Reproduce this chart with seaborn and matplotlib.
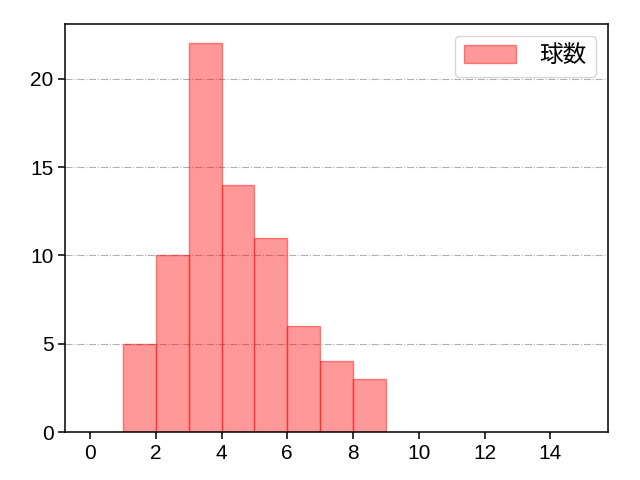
import matplotlib
matplotlib.use("Agg")
import matplotlib.pyplot as plt
import seaborn as sns
import pandas as pd

bin_edges = [1, 2, 3, 4, 5, 6, 7, 8, 9]
counts = [5, 10, 22, 14, 11, 6, 4, 3]
label = "球数"

df = pd.DataFrame({"pitches": [e + 0.5 for e in bin_edges[:-1]], "count": counts})

sns.set_style("ticks")
plt.rcParams["font.family"] = ["Liberation Sans", "Noto Sans CJK JP", "DejaVu Sans"]
plt.rcParams["text.color"] = "black"

fig, ax = plt.subplots(figsize=(6.4, 4.8), dpi=100)
fig.subplots_adjust(left=0.102, right=0.95, top=0.95, bottom=0.1)

sns.histplot(data=df, x="pitches", weights="count", bins=bin_edges,
             color="red", alpha=0.4, edgecolor=(1, 0, 0, 0.45), linewidth=1.0,
             label=label, ax=ax)

ax.set_xlim(-0.75, 15.75)
ax.set_ylim(0, 23.1)
ax.set_xticks(range(0, 16, 2))
ax.set_yticks([0, 5, 10, 15, 20])
ax.set_xlabel("")
ax.set_ylabel("")
ax.grid(axis="y", linestyle="-.", color="#b0b0b0", linewidth=0.8)
for s in ax.spines.values():
    s.set_color("black")
    s.set_linewidth(1.1)
ax.tick_params(labelsize=15, colors="black", length=5, width=1.1)
leg = ax.legend(loc="upper right", fontsize=17, handlelength=2.2,
                handleheight=0.75, handletextpad=1.0, borderpad=0.4)
leg.get_frame().set_edgecolor("#cccccc")

plt.savefig("out.png")
